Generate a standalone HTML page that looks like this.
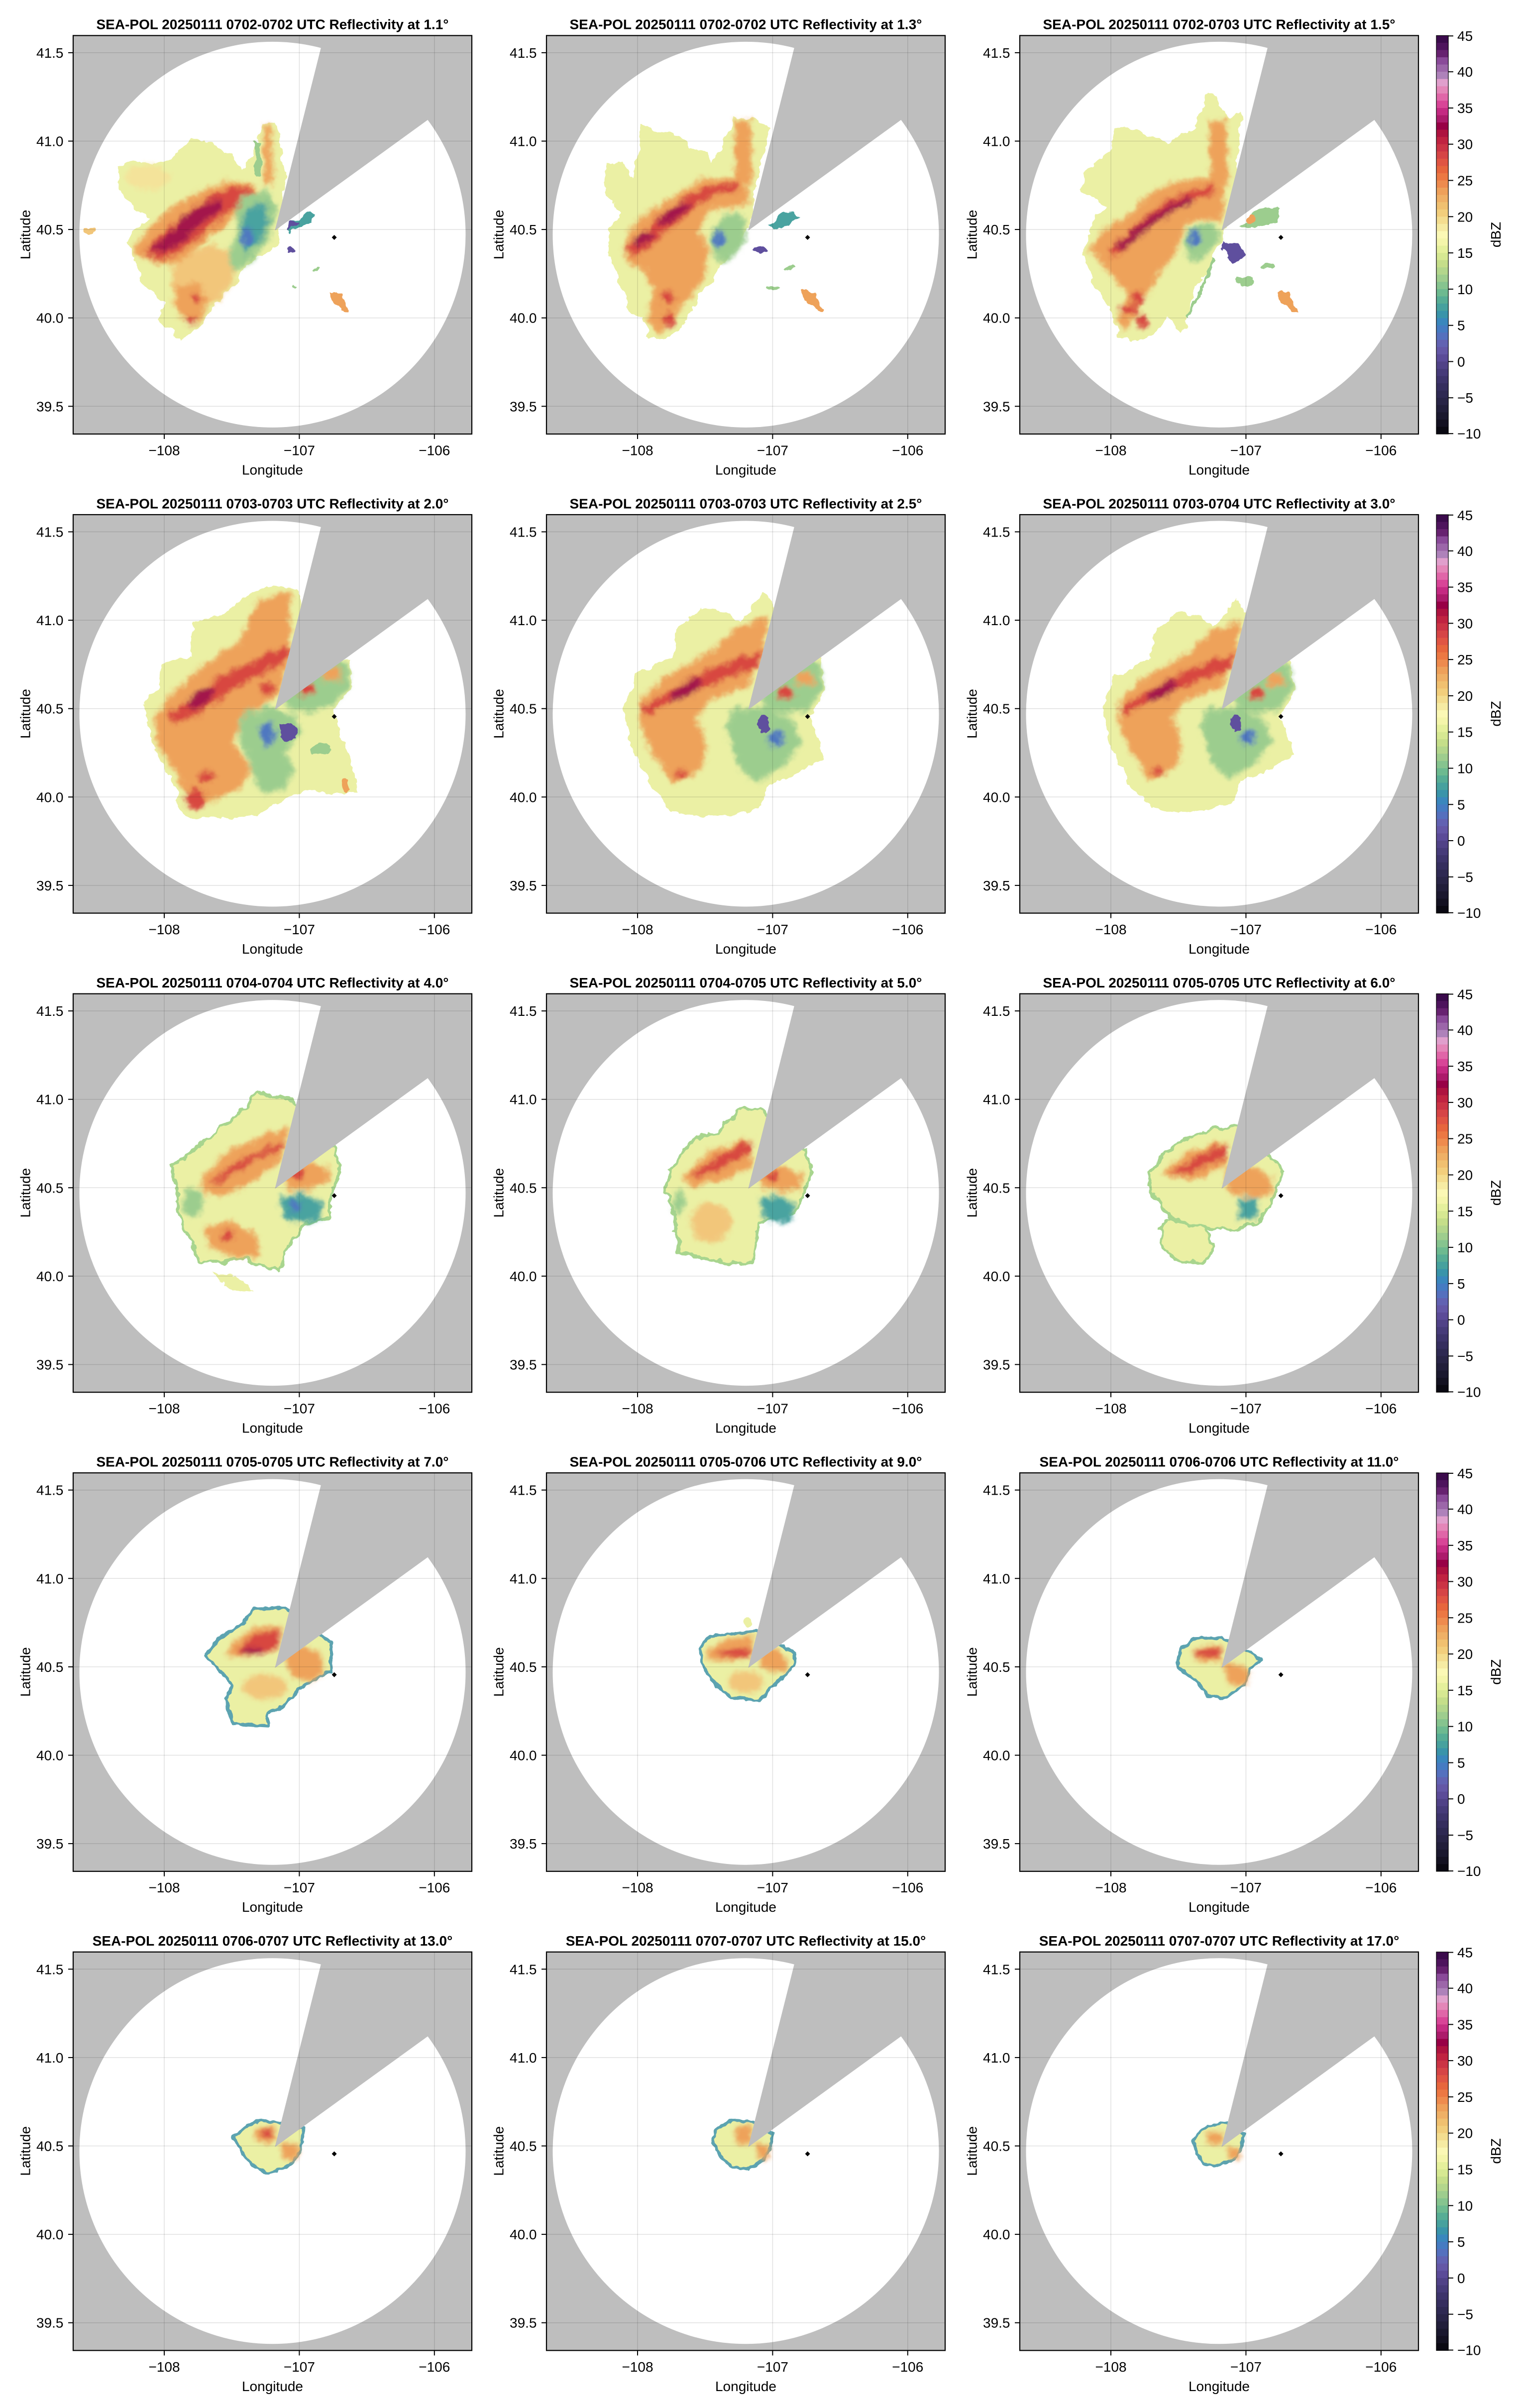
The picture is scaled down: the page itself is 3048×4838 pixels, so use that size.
<!DOCTYPE html>
<html><head><meta charset="utf-8"><style>
html,body{margin:0;padding:0;background:#fff}
svg{display:block}
text{font-family:"Liberation Sans",Arial,sans-serif;font-size:28px;fill:#000}
.t{font-weight:bold;text-anchor:middle}
.yl text{text-anchor:end}
.xl text{text-anchor:middle}
.lb{text-anchor:middle}
.cl text{text-anchor:start}
.py{fill:#ebf0a4}
.py3{fill:#ebf0a4;stroke:#a8d58e;stroke-width:6;stroke-linejoin:round}
.py4{fill:#ebf0a4;stroke:#5ba3b0;stroke-width:6;stroke-linejoin:round}
.ly{fill:#f4e39a}
.lo{fill:#f2c67a}
.or{fill:#eea25a}
.rd{fill:#d8473f}
.dr{fill:#a3154b}
.gr{fill:#9ccd8e}
.tl{fill:#4aa3a0}
.bl{fill:#4f78c0}
.pu{fill:#5f4f9e}
</style></head><body>
<svg xmlns="http://www.w3.org/2000/svg" xmlns:xlink="http://www.w3.org/1999/xlink" width="3048" height="4838" viewBox="0 0 3048 4838">
<defs>
<clipPath id="cp"><rect x="0" y="0" width="801" height="800.6"/></clipPath>
<filter id="rag" x="-20%" y="-20%" width="140%" height="140%">
<feTurbulence type="fractalNoise" baseFrequency="0.045" numOctaves="3" seed="7" result="t"/>
<feDisplacementMap in="SourceGraphic" in2="t" scale="18" xChannelSelector="R" yChannelSelector="G"/>
</filter>
<filter id="rag2" x="-20%" y="-20%" width="140%" height="140%">
<feTurbulence type="fractalNoise" baseFrequency="0.07" numOctaves="2" seed="3" result="t"/>
<feDisplacementMap in="SourceGraphic" in2="t" scale="9" xChannelSelector="R" yChannelSelector="G"/>
</filter>
<filter id="bl" x="-30%" y="-30%" width="160%" height="160%"><feGaussianBlur stdDeviation="5"/></filter>

<g id="bg">
<rect x="0" y="0" width="801" height="800.6" fill="#bebebe"/>
<ellipse cx="400.5" cy="400" rx="388" ry="387.5" fill="#fff"/>
</g>

<g id="fg">
<polygon clip-path="url(#cp)" points="405.3,391.9 683.4,-711.8 1323.3,-272.9" fill="#bebebe"/>
<g stroke="#000" stroke-opacity="0.12" stroke-width="1.5">
<line x1="183" y1="0" x2="183" y2="800.6"/>
<line x1="454.4" y1="0" x2="454.4" y2="800.6"/>
<line x1="725.8" y1="0" x2="725.8" y2="800.6"/>
<line x1="0" y1="34.5" x2="801" y2="34.5"/>
<line x1="0" y1="212.1" x2="801" y2="212.1"/>
<line x1="0" y1="389.7" x2="801" y2="389.7"/>
<line x1="0" y1="567.3" x2="801" y2="567.3"/>
<line x1="0" y1="744.9" x2="801" y2="744.9"/>
</g>
<path d="M524.6,400.6L529.6,405.6L524.6,410.6L519.6,405.6Z" fill="#000"/>
<rect x="0" y="0" width="801" height="800.6" fill="none" stroke="#000" stroke-width="2.2"/>
<g stroke="#000" stroke-width="2">
<line x1="-10" x2="0" y1="34.5" y2="34.5"/>
<line x1="-10" x2="0" y1="212.1" y2="212.1"/>
<line x1="-10" x2="0" y1="389.7" y2="389.7"/>
<line x1="-10" x2="0" y1="567.3" y2="567.3"/>
<line x1="-10" x2="0" y1="744.9" y2="744.9"/>
<line x1="183" x2="183" y1="800.6" y2="810.6"/>
<line x1="454.4" x2="454.4" y1="800.6" y2="810.6"/>
<line x1="725.8" x2="725.8" y1="800.6" y2="810.6"/>
</g>
</g>

<g id="cb">
<rect x="837" width="24" height="15" y="0" fill="#3b0b4c"/>
<rect x="837" width="24" height="15" y="14.56" fill="#4e145d"/>
<rect x="837" width="24" height="15" y="29.11" fill="#672270"/>
<rect x="837" width="24" height="15" y="43.67" fill="#8a4a99"/>
<rect x="837" width="24" height="15" y="58.23" fill="#9c66a9"/>
<rect x="837" width="24" height="15" y="72.78" fill="#ae82ba"/>
<rect x="837" width="24" height="15" y="87.34" fill="#e09fcc"/>
<rect x="837" width="24" height="15" y="101.89" fill="#e486b8"/>
<rect x="837" width="24" height="15" y="116.45" fill="#e066a8"/>
<rect x="837" width="24" height="15" y="131.01" fill="#d84597"/>
<rect x="837" width="24" height="15" y="145.56" fill="#c42a82"/>
<rect x="837" width="24" height="15" y="160.12" fill="#ac1b6b"/>
<rect x="837" width="24" height="15" y="174.68" fill="#980046"/>
<rect x="837" width="24" height="15" y="189.23" fill="#ae1340"/>
<rect x="837" width="24" height="15" y="203.79" fill="#c02341"/>
<rect x="837" width="24" height="15" y="218.35" fill="#cb3445"/>
<rect x="837" width="24" height="15" y="232.9" fill="#d64546"/>
<rect x="837" width="24" height="15" y="247.46" fill="#e05543"/>
<rect x="837" width="24" height="15" y="262.02" fill="#e7663d"/>
<rect x="837" width="24" height="15" y="276.57" fill="#ec7843"/>
<rect x="837" width="24" height="15" y="291.13" fill="#ee8b4e"/>
<rect x="837" width="24" height="15" y="305.68" fill="#eea05a"/>
<rect x="837" width="24" height="15" y="320.24" fill="#efb066"/>
<rect x="837" width="24" height="15" y="334.8" fill="#f0c070"/>
<rect x="837" width="24" height="15" y="349.35" fill="#f2ce7c"/>
<rect x="837" width="24" height="15" y="363.91" fill="#f4dd8f"/>
<rect x="837" width="24" height="15" y="378.47" fill="#f6eba3"/>
<rect x="837" width="24" height="15" y="393.02" fill="#fbf8b5"/>
<rect x="837" width="24" height="15" y="407.58" fill="#f4f5aa"/>
<rect x="837" width="24" height="15" y="422.14" fill="#e5f09c"/>
<rect x="837" width="24" height="15" y="436.69" fill="#d6e892"/>
<rect x="837" width="24" height="15" y="451.25" fill="#c5de8a"/>
<rect x="837" width="24" height="15" y="465.8" fill="#b3d68c"/>
<rect x="837" width="24" height="15" y="480.36" fill="#9ecd8e"/>
<rect x="837" width="24" height="15" y="494.92" fill="#86c48f"/>
<rect x="837" width="24" height="15" y="509.47" fill="#6dba90"/>
<rect x="837" width="24" height="15" y="524.03" fill="#57ad95"/>
<rect x="837" width="24" height="15" y="538.59" fill="#47a19e"/>
<rect x="837" width="24" height="15" y="553.14" fill="#3a94aa"/>
<rect x="837" width="24" height="15" y="567.7" fill="#3a87bd"/>
<rect x="837" width="24" height="15" y="582.26" fill="#457bc2"/>
<rect x="837" width="24" height="15" y="596.81" fill="#5570be"/>
<rect x="837" width="24" height="15" y="611.37" fill="#6262b2"/>
<rect x="837" width="24" height="15" y="625.93" fill="#6457a6"/>
<rect x="837" width="24" height="15" y="640.48" fill="#5b4b98"/>
<rect x="837" width="24" height="15" y="655.04" fill="#504287"/>
<rect x="837" width="24" height="15" y="669.59" fill="#463b79"/>
<rect x="837" width="24" height="15" y="684.15" fill="#3d346b"/>
<rect x="837" width="24" height="15" y="698.71" fill="#352e5e"/>
<rect x="837" width="24" height="15" y="713.26" fill="#2e2952"/>
<rect x="837" width="24" height="15" y="727.82" fill="#282446"/>
<rect x="837" width="24" height="15" y="742.38" fill="#211e3a"/>
<rect x="837" width="24" height="15" y="756.93" fill="#1a182e"/>
<rect x="837" width="24" height="15" y="771.49" fill="#131121"/>
<rect x="837" width="24" height="14.6" y="786.05" fill="#0a0912"/>
<rect x="837" y="0" width="24" height="800.6" fill="none" stroke="#000" stroke-width="1.2"/>
<g stroke="#000" stroke-width="2">
<line x1="861" x2="871" y1="0.8" y2="0.8"/>
<line x1="861" x2="871" y1="72.8" y2="72.8"/>
<line x1="861" x2="871" y1="145.6" y2="145.6"/>
<line x1="861" x2="871" y1="218.3" y2="218.3"/>
<line x1="861" x2="871" y1="291.1" y2="291.1"/>
<line x1="861" x2="871" y1="363.9" y2="363.9"/>
<line x1="861" x2="871" y1="436.7" y2="436.7"/>
<line x1="861" x2="871" y1="509.5" y2="509.5"/>
<line x1="861" x2="871" y1="582.3" y2="582.3"/>
<line x1="861" x2="871" y1="655" y2="655"/>
<line x1="861" x2="871" y1="727.8" y2="727.8"/>
<line x1="861" x2="871" y1="799.8" y2="799.8"/>
</g>
</g>

<g id="d1">
<polygon class="py" points="236,209 299,225 338,267 357,248 382,177 408,174 427,286 414,375 414,413 395,439 363,445 338,477 325,503 299,522 268,566 236,598 210,614 197,592 166,573 185,541 153,509 134,490 127,452 108,413 121,394 153,369 127,350 95,311 89,260 121,248 159,260 197,248"/>
<ellipse class="lo" cx="34" cy="391" rx="11" ry="6"/>
<g filter="url(#bl)">
<polygon class="lo" points="200,450 280,420 330,440 320,500 280,540 240,560 200,540"/>
<ellipse class="ly" cx="150" cy="285" rx="45" ry="25"/>
<polygon class="or" points="121,426 153,388 210,337 261,311 312,292 357,299 382,324 363,343 325,362 299,388 261,413 236,439 210,458 172,458 134,445"/>
<polygon class="or" points="205,505 250,495 272,530 262,565 235,580 212,560"/>
<polygon class="or" points="383,180 397,178 402,300 385,305"/>
<polygon class="rd" points="140,440 165,410 200,380 240,345 280,320 320,305 355,305 370,322 340,340 300,362 270,390 240,415 205,440 170,452"/>
<circle class="rd" cx="248" cy="528" r="10"/>
<circle class="rd" cx="236" cy="572" r="9"/>
<polygon class="dr" points="153,432 191,401 223,362 261,337 293,330 299,350 261,375 223,413 191,432 159,439"/>
<polygon class="gr" points="338,324 389,311 408,343 402,388 376,432 351,458 325,477 312,439 331,388 325,350"/>
<polygon class="tl" points="345,350 385,335 395,380 370,420 345,440 335,400"/>
<ellipse class="bl" cx="350" cy="405" rx="12" ry="20"/>
</g>
<polygon class="gr" points="365,215 375,212 378,280 366,282"/>
<polygon class="tl" points="427,385 450,368 470,356 485,360 480,378 455,385 435,395"/>
<ellipse class="pu" cx="440" cy="380" rx="14" ry="4" transform="rotate(-30 440 380)"/>
<ellipse class="pu" cx="435" cy="432" rx="8" ry="5"/>
<polygon class="or" points="516,518 530,515 552,545 554,556 540,552 520,530"/>
<ellipse class="gr" cx="446" cy="503" rx="6" ry="3"/>
<ellipse class="gr" cx="490" cy="470" rx="5" ry="3"/>
</g>

<g id="d2">
<polygon class="py" points="189,179 225,194 255,194 286,225 306,225 332,255 352,225 378,163 414,169 450,184 419,306 409,388 368,429 337,490 306,521 276,582 235,613 204,608 194,562 169,562 153,511 128,444 125,388 153,358 128,327 112,306 123,255 153,255 174,286 184,230"/>
<g filter="url(#bl)">
<polygon class="or" points="153,439 169,388 215,347 266,317 317,286 358,286 398,286 409,332 378,347 332,347 306,388 327,439 317,490 286,526 255,572 225,603 204,572 215,511 194,470 169,460"/>
<polygon class="or" points="378,170 410,170 412,300 380,300"/>
<polygon class="rd" points="153,434 194,398 230,358 276,327 317,306 358,296 388,296 388,312 347,317 306,337 276,368 235,398 204,429 174,444"/>
<ellipse class="dr" cx="255" cy="358" rx="38" ry="12" transform="rotate(-35 255 358)"/>
<ellipse class="dr" cx="194" cy="409" rx="22" ry="10" transform="rotate(-30 194 409)"/>
<circle class="rd" cx="245" cy="526" r="14"/>
<circle class="rd" cx="245" cy="570" r="13"/>
<polygon class="gr" points="327,404 358,358 393,358 404,388 388,434 358,455 332,439"/>
<ellipse class="bl" cx="347" cy="409" rx="12" ry="18"/>
</g>
<polygon class="tl" points="444,380 470,360 500,352 506,362 485,385 455,393"/>
<ellipse class="pu" cx="425" cy="432" rx="16" ry="6"/>
<polygon class="or" points="511,511 525,508 557,548 555,556 540,548 515,525"/>
<ellipse class="gr" cx="455" cy="505" rx="14" ry="5"/>
<ellipse class="gr" cx="490" cy="467" rx="10" ry="4"/>
</g>

<g id="d3">
<polygon class="py" points="191,190 231,184 258,203 298,216 332,197 352,184 378,114 392,120 418,171 445,152 432,324 412,394 392,439 378,477 352,503 338,566 325,598 298,566 265,605 231,617 198,605 185,560 151,503 128,439 144,375 171,337 118,311 138,267 178,235"/>
<g filter="url(#bl)">
<polygon class="or" points="171,388 218,362 251,324 298,299 345,286 385,286 412,299 405,375 365,369 338,375 325,401 312,439 285,471 265,503 245,535 231,566 205,598 198,566 218,522 191,490 164,458 138,432"/>
<polygon class="or" points="380,171 414,171 418,300 385,300"/>
<polygon class="rd" points="178,432 211,401 245,369 285,337 325,318 365,305 392,299 392,318 352,330 312,350 271,375 238,401 211,432 185,445"/>
<circle class="rd" cx="238" cy="528" r="14"/>
<circle class="rd" cx="245" cy="573" r="12"/>
<ellipse class="rd" cx="220" cy="550" rx="18" ry="10"/>
<polygon class="dr" points="190,425 225,395 260,365 300,340 340,322 350,333 310,352 270,380 235,408 205,432"/>
<polygon class="gr" points="338,388 378,375 405,394 385,432 358,452 338,445 328,420"/>
<ellipse class="bl" cx="352" cy="407" rx="12" ry="18"/>
</g>
<polygon class="gr" points="440,385 470,355 500,340 520,350 515,375 490,385 460,390"/>
<ellipse class="or" cx="465" cy="369" rx="12" ry="8"/>
<polygon class="pu" points="405,413 440,420 452,445 430,458 410,440"/>
<ellipse class="gr" cx="498" cy="464" rx="14" ry="6"/>
<ellipse class="gr" cx="452" cy="492" rx="20" ry="8"/>
<polygon class="or" points="519,515 530,512 557,545 559,557 545,553 522,530"/>
<polyline points="391,450 338,566" fill="none" stroke="#9ccd8e" stroke-width="6"/>
</g>

<g id="d4">
<polygon class="py" points="335,174 386,141 453,148 469,286 559,291 559,347 525,388 536,450 559,490 570,557 525,562 469,552 436,567 369,603 324,613 279,608 235,616 207,588 212,557 184,511 156,450 140,378 168,347 179,301 235,286 240,220 291,204"/>
<g filter="url(#bl)">
<polygon class="or" points="201,358 257,307 335,255 369,174 436,153 436,286 413,358 380,388 335,409 324,460 358,511 335,552 279,577 235,588 224,552 201,511 168,460 162,409"/>
<polygon class="rd" points="190,398 246,368 291,327 358,296 425,261 436,286 391,317 335,342 291,373 246,404 201,419"/>
<ellipse class="dr" cx="257" cy="368" rx="30" ry="16" transform="rotate(-35 257 368)"/>
<circle class="rd" cx="245" cy="570" r="20"/>
<circle class="rd" cx="268" cy="526" r="14"/>
<circle class="rd" cx="390" cy="350" r="14"/>
<polygon class="gr" points="338,405 352,390 372,398 391,384 420,396 447,404 458,439 425,480 447,511 425,552 380,562 358,511 340,460 330,430"/>
<ellipse class="bl" cx="390" cy="440" rx="15" ry="25"/>
<polygon class="gr" points="440,330 480,300 520,290 555,300 555,345 520,385 480,398 440,395 425,380"/>
<ellipse class="rd" cx="470" cy="350" rx="18" ry="14"/>
<ellipse class="or" cx="520" cy="320" rx="20" ry="15"/>
</g>
<polygon class="pu" points="413,419 447,425 447,450 425,455 410,440"/>
<ellipse class="gr" cx="500" cy="470" rx="20" ry="10"/>
<ellipse class="or" cx="547" cy="545" rx="8" ry="14"/>
</g>

<g id="d5">
<polygon class="py" points="312,184 345,189 390,215 435,158 552,291 558,358 530,409 558,490 502,521 446,542 435,588 379,603 312,608 256,598 222,562 189,506 167,460 155,388 178,322 256,286 262,230"/>
<g filter="url(#bl)">
<polygon class="or" points="190,373 235,327 313,286 390,225 446,204 435,286 401,347 334,368 301,409 323,460 312,511 256,542 234,511 200,460 189,419"/>
<polygon class="rd" points="190,388 257,347 324,312 391,286 430,276 425,307 369,327 302,353 246,378 201,404"/>
<ellipse class="dr" cx="280" cy="352" rx="38" ry="13" transform="rotate(-30 280 352)"/>
<polygon class="gr" points="370,400 385,386 402,395 424,382 455,398 491,409 513,460 479,501 424,542 390,511 368,460 362,425"/>
<ellipse class="bl" cx="460" cy="450" rx="15" ry="18"/>
<polygon class="gr" points="430,330 470,300 520,290 552,300 555,350 525,395 480,400 440,395"/>
<ellipse class="rd" cx="480" cy="358" rx="18" ry="14"/>
<ellipse class="or" cx="520" cy="330" rx="18" ry="14"/>
<circle class="rd" cx="270" cy="520" r="10"/>
</g>
<ellipse class="pu" cx="435" cy="419" rx="12" ry="20"/>
</g>

<g id="d7">
<polygon class="py3" points="371,199 440,215 526,312 535,358 517,419 517,450 466,460 431,511 414,557 345,531 259,542 216,460 207,398 198,347 233,322 276,286 302,266 345,230"/>
<polygon class="py" points="276,562 330,570 362,598 320,595"/>
<g filter="url(#bl)">
<polygon class="or" points="259,368 310,317 379,286 431,266 422,327 388,358 345,388 293,409 259,398"/>
<polygon class="or" points="265,470 320,455 370,490 375,525 320,530 270,505"/>
<polygon class="rd" points="276,378 328,337 388,312 422,296 422,312 371,332 319,363 285,383"/>
<circle class="rd" cx="310" cy="485" r="12"/>
<polygon class="or" points="425,345 470,335 510,345 515,380 470,395 430,395"/>
<ellipse class="rd" cx="450" cy="360" rx="15" ry="10"/>
<polygon class="tl" points="414,410 460,400 500,420 495,455 450,460 420,445"/>
<ellipse class="bl" cx="445" cy="425" rx="10" ry="14"/>
<ellipse class="gr" cx="240" cy="420" rx="20" ry="30"/>
</g>
</g>

<g id="d8">
<polygon class="py3" points="395,232 429,230 516,312 533,358 516,409 498,439 429,460 412,542 326,536 266,516 257,444 240,398 248,353 291,296 343,276"/>
<g filter="url(#bl)">
<ellipse class="lo" cx="330" cy="460" rx="40" ry="40"/>
<polygon class="or" points="274,368 326,317 412,291 412,347 360,373 291,388"/>
<polygon class="rd" points="291,363 343,327 412,294 412,317 360,347 310,368"/>
<polygon class="or" points="429,347 470,345 512,360 512,395 470,398 432,390"/>
<ellipse class="rd" cx="455" cy="365" rx="12" ry="10"/>
<polygon class="tl" points="429,409 470,405 498,425 490,458 450,460 432,440"/>
<ellipse class="gr" cx="265" cy="420" rx="12" ry="25"/>
</g>
</g>

<g id="d9">
<polygon class="py3" points="391,271 434,266 503,327 528,358 511,409 477,460 425,475 373,470 304,450 261,398 261,358 296,317 339,286"/>
<polygon class="py3" points="296,452 373,470 391,511 373,536 322,542 287,511 284,470"/>
<g filter="url(#bl)">
<polygon class="or" points="287,358 339,317 416,296 416,337 373,368 322,373"/>
<polygon class="rd" points="304,358 356,327 416,301 416,327 356,353 322,365"/>
<polygon class="or" points="410,347 460,345 505,365 508,405 470,408 420,400"/>
<polygon class="tl" points="440,410 480,410 475,450 440,455"/>
</g>
</g>

<g id="d10">
<polygon class="py4" points="363,273 426,271 518,341 518,398 462,428 419,471 391,481 391,508 321,504 306,454 321,428 292,394 264,368 292,334 342,301"/>
<g filter="url(#bl)">
<ellipse class="lo" cx="385" cy="430" rx="45" ry="25"/>
<polygon class="or" points="321,341 363,311 419,308 412,354 363,368 306,368"/>
<polygon class="rd" points="328,358 363,324 416,313 412,351 377,364 335,364"/>
<ellipse class="dr" cx="360" cy="358" rx="22" ry="7"/>
<polygon class="or" points="420,360 450,345 495,360 505,400 480,420 440,410"/>
</g>
</g>

<g id="d11">
<polygon class="py4" points="329,328 421,318 498,361 498,388 456,428 428,458 371,451 343,428 315,391 308,351"/>
<ellipse class="py" cx="403" cy="300" rx="8" ry="12"/>
<g filter="url(#bl)">
<ellipse class="lo" cx="400" cy="420" rx="35" ry="22"/>
<polygon class="or" points="320,358 360,335 414,325 414,370 370,378 325,375"/>
<polygon class="rd" points="336,361 386,351 414,356 407,371 357,369"/>
<polygon class="or" points="428,354 460,352 484,375 484,397 455,400 430,390"/>
</g>
</g>

<g id="d12">
<polygon class="py4" points="351,333 407,331 485,374 464,394 450,428 407,454 379,448 351,414 316,391 323,354"/>
<g filter="url(#bl)">
<polygon class="or" points="345,358 386,345 407,350 405,378 360,380"/>
<polygon class="rd" points="351,358 386,351 407,354 400,371 351,369"/>
<polygon class="or" points="407,381 440,385 463,400 455,427 420,425"/>
</g>
</g>

<g id="d13">
<polygon class="py4" points="377,338 410,343 463,353 457,399 437,426 410,439 390,446 357,426 337,399 322,370 350,349"/>
<g filter="url(#bl)">
<polygon class="or" points="370,353 403,349 410,376 390,386 363,376"/>
<ellipse class="rd" cx="390" cy="365" rx="12" ry="10"/>
<polygon class="or" points="417,383 445,385 457,400 445,419 420,415"/>
</g>
</g>

<g id="d14">
<polygon class="py4" points="374,338 414,341 454,366 447,399 434,419 407,436 374,433 354,416 334,383 340,356"/>
<g filter="url(#bl)">
<polygon class="or" points="380,349 413,349 413,386 380,386"/>
<polygon class="or" points="420,382 447,390 447,416 425,416"/>
</g>
</g>

<g id="d15">
<polygon class="py4" points="376,349 416,343 449,366 443,399 429,419 396,429 369,426 356,406 349,376"/>
<g filter="url(#bl)">
<polygon class="or" points="376,362 409,362 409,386 376,386"/>
<polygon class="or" points="416,392 443,396 443,416 420,416"/>
</g>
</g>
</defs>

<!-- ROW 1 -->
<g transform="translate(147,71.4)">
<use xlink:href="#bg" href="#bg"/>
<g clip-path="url(#cp)"><g filter="url(#rag)"><use xlink:href="#d1" href="#d1"/></g></g>
<use xlink:href="#fg" href="#fg"/>
<text class="t" x="400.5" y="-12.7">SEA-POL 20250111 0702-0702 UTC Reflectivity at 1.1°</text>
<g class="yl"><text x="-19.5" y="44.5">41.5</text><text x="-19.5" y="222.1">41.0</text><text x="-19.5" y="399.7">40.5</text><text x="-19.5" y="577.3">40.0</text><text x="-19.5" y="754.9">39.5</text></g>
<g class="xl"><text x="183" y="843">−108</text><text x="454.4" y="843">−107</text><text x="725.8" y="843">−106</text></g>
<text class="lb" x="400.5" y="882">Longitude</text>
<text class="lb" transform="translate(-86.4,400) rotate(-90)">Latitude</text>
</g>

<g transform="translate(1098,71.4)">
<use xlink:href="#bg" href="#bg"/>
<g clip-path="url(#cp)"><g filter="url(#rag)"><use xlink:href="#d2" href="#d2"/></g></g>
<use xlink:href="#fg" href="#fg"/>
<text class="t" x="400.5" y="-12.7">SEA-POL 20250111 0702-0702 UTC Reflectivity at 1.3°</text>
<g class="yl"><text x="-19.5" y="44.5">41.5</text><text x="-19.5" y="222.1">41.0</text><text x="-19.5" y="399.7">40.5</text><text x="-19.5" y="577.3">40.0</text><text x="-19.5" y="754.9">39.5</text></g>
<g class="xl"><text x="183" y="843">−108</text><text x="454.4" y="843">−107</text><text x="725.8" y="843">−106</text></g>
<text class="lb" x="400.5" y="882">Longitude</text>
<text class="lb" transform="translate(-86.4,400) rotate(-90)">Latitude</text>
</g>

<g transform="translate(2049,71.4)">
<use xlink:href="#bg" href="#bg"/>
<g clip-path="url(#cp)"><g filter="url(#rag)"><use xlink:href="#d3" href="#d3"/></g></g>
<use xlink:href="#fg" href="#fg"/>
<text class="t" x="400.5" y="-12.7">SEA-POL 20250111 0702-0703 UTC Reflectivity at 1.5°</text>
<g class="yl"><text x="-19.5" y="44.5">41.5</text><text x="-19.5" y="222.1">41.0</text><text x="-19.5" y="399.7">40.5</text><text x="-19.5" y="577.3">40.0</text><text x="-19.5" y="754.9">39.5</text></g>
<g class="xl"><text x="183" y="843">−108</text><text x="454.4" y="843">−107</text><text x="725.8" y="843">−106</text></g>
<text class="lb" x="400.5" y="882">Longitude</text>
<text class="lb" transform="translate(-86.4,400) rotate(-90)">Latitude</text>
<use xlink:href="#cb" href="#cb"/>
<g class="cl"><text x="879" y="10.8">45</text><text x="879" y="82.8">40</text><text x="879" y="155.6">35</text><text x="879" y="228.3">30</text><text x="879" y="301.1">25</text><text x="879" y="373.9">20</text><text x="879" y="446.7">15</text><text x="879" y="519.5">10</text><text x="879" y="592.3">5</text><text x="879" y="665">0</text><text x="879" y="737.8">−5</text><text x="879" y="809.8">−10</text></g>
<text class="lb" transform="translate(966,400) rotate(-90)">dBZ</text>
</g>

<!-- ROW 2 -->
<g transform="translate(147,1034)">
<use xlink:href="#bg" href="#bg"/>
<g clip-path="url(#cp)"><g filter="url(#rag)"><use xlink:href="#d4" href="#d4"/></g></g>
<use xlink:href="#fg" href="#fg"/>
<text class="t" x="400.5" y="-12.7">SEA-POL 20250111 0703-0703 UTC Reflectivity at 2.0°</text>
<g class="yl"><text x="-19.5" y="44.5">41.5</text><text x="-19.5" y="222.1">41.0</text><text x="-19.5" y="399.7">40.5</text><text x="-19.5" y="577.3">40.0</text><text x="-19.5" y="754.9">39.5</text></g>
<g class="xl"><text x="183" y="843">−108</text><text x="454.4" y="843">−107</text><text x="725.8" y="843">−106</text></g>
<text class="lb" x="400.5" y="882">Longitude</text>
<text class="lb" transform="translate(-86.4,400) rotate(-90)">Latitude</text>
</g>

<g transform="translate(1098,1034)">
<use xlink:href="#bg" href="#bg"/>
<g clip-path="url(#cp)"><g filter="url(#rag)"><use xlink:href="#d5" href="#d5"/></g></g>
<use xlink:href="#fg" href="#fg"/>
<text class="t" x="400.5" y="-12.7">SEA-POL 20250111 0703-0703 UTC Reflectivity at 2.5°</text>
<g class="yl"><text x="-19.5" y="44.5">41.5</text><text x="-19.5" y="222.1">41.0</text><text x="-19.5" y="399.7">40.5</text><text x="-19.5" y="577.3">40.0</text><text x="-19.5" y="754.9">39.5</text></g>
<g class="xl"><text x="183" y="843">−108</text><text x="454.4" y="843">−107</text><text x="725.8" y="843">−106</text></g>
<text class="lb" x="400.5" y="882">Longitude</text>
<text class="lb" transform="translate(-86.4,400) rotate(-90)">Latitude</text>
</g>

<g transform="translate(2049,1034)">
<use xlink:href="#bg" href="#bg"/>
<g clip-path="url(#cp)"><g filter="url(#rag)"><g transform="translate(405,392) scale(0.95) translate(-405,-392)"><use xlink:href="#d5" href="#d5"/></g></g></g>
<use xlink:href="#fg" href="#fg"/>
<text class="t" x="400.5" y="-12.7">SEA-POL 20250111 0703-0704 UTC Reflectivity at 3.0°</text>
<g class="yl"><text x="-19.5" y="44.5">41.5</text><text x="-19.5" y="222.1">41.0</text><text x="-19.5" y="399.7">40.5</text><text x="-19.5" y="577.3">40.0</text><text x="-19.5" y="754.9">39.5</text></g>
<g class="xl"><text x="183" y="843">−108</text><text x="454.4" y="843">−107</text><text x="725.8" y="843">−106</text></g>
<text class="lb" x="400.5" y="882">Longitude</text>
<text class="lb" transform="translate(-86.4,400) rotate(-90)">Latitude</text>
<use xlink:href="#cb" href="#cb"/>
<g class="cl"><text x="879" y="10.8">45</text><text x="879" y="82.8">40</text><text x="879" y="155.6">35</text><text x="879" y="228.3">30</text><text x="879" y="301.1">25</text><text x="879" y="373.9">20</text><text x="879" y="446.7">15</text><text x="879" y="519.5">10</text><text x="879" y="592.3">5</text><text x="879" y="665">0</text><text x="879" y="737.8">−5</text><text x="879" y="809.8">−10</text></g>
<text class="lb" transform="translate(966,400) rotate(-90)">dBZ</text>
</g>

<!-- ROW 3 -->
<g transform="translate(147,1996.6)">
<use xlink:href="#bg" href="#bg"/>
<g clip-path="url(#cp)"><g filter="url(#rag)"><use xlink:href="#d7" href="#d7"/></g></g>
<use xlink:href="#fg" href="#fg"/>
<text class="t" x="400.5" y="-12.7">SEA-POL 20250111 0704-0704 UTC Reflectivity at 4.0°</text>
<g class="yl"><text x="-19.5" y="44.5">41.5</text><text x="-19.5" y="222.1">41.0</text><text x="-19.5" y="399.7">40.5</text><text x="-19.5" y="577.3">40.0</text><text x="-19.5" y="754.9">39.5</text></g>
<g class="xl"><text x="183" y="843">−108</text><text x="454.4" y="843">−107</text><text x="725.8" y="843">−106</text></g>
<text class="lb" x="400.5" y="882">Longitude</text>
<text class="lb" transform="translate(-86.4,400) rotate(-90)">Latitude</text>
</g>

<g transform="translate(1098,1996.6)">
<use xlink:href="#bg" href="#bg"/>
<g clip-path="url(#cp)"><g filter="url(#rag)"><use xlink:href="#d8" href="#d8"/></g></g>
<use xlink:href="#fg" href="#fg"/>
<text class="t" x="400.5" y="-12.7">SEA-POL 20250111 0704-0705 UTC Reflectivity at 5.0°</text>
<g class="yl"><text x="-19.5" y="44.5">41.5</text><text x="-19.5" y="222.1">41.0</text><text x="-19.5" y="399.7">40.5</text><text x="-19.5" y="577.3">40.0</text><text x="-19.5" y="754.9">39.5</text></g>
<g class="xl"><text x="183" y="843">−108</text><text x="454.4" y="843">−107</text><text x="725.8" y="843">−106</text></g>
<text class="lb" x="400.5" y="882">Longitude</text>
<text class="lb" transform="translate(-86.4,400) rotate(-90)">Latitude</text>
</g>

<g transform="translate(2049,1996.6)">
<use xlink:href="#bg" href="#bg"/>
<g clip-path="url(#cp)"><g filter="url(#rag)"><use xlink:href="#d9" href="#d9"/></g></g>
<use xlink:href="#fg" href="#fg"/>
<text class="t" x="400.5" y="-12.7">SEA-POL 20250111 0705-0705 UTC Reflectivity at 6.0°</text>
<g class="yl"><text x="-19.5" y="44.5">41.5</text><text x="-19.5" y="222.1">41.0</text><text x="-19.5" y="399.7">40.5</text><text x="-19.5" y="577.3">40.0</text><text x="-19.5" y="754.9">39.5</text></g>
<g class="xl"><text x="183" y="843">−108</text><text x="454.4" y="843">−107</text><text x="725.8" y="843">−106</text></g>
<text class="lb" x="400.5" y="882">Longitude</text>
<text class="lb" transform="translate(-86.4,400) rotate(-90)">Latitude</text>
<use xlink:href="#cb" href="#cb"/>
<g class="cl"><text x="879" y="10.8">45</text><text x="879" y="82.8">40</text><text x="879" y="155.6">35</text><text x="879" y="228.3">30</text><text x="879" y="301.1">25</text><text x="879" y="373.9">20</text><text x="879" y="446.7">15</text><text x="879" y="519.5">10</text><text x="879" y="592.3">5</text><text x="879" y="665">0</text><text x="879" y="737.8">−5</text><text x="879" y="809.8">−10</text></g>
<text class="lb" transform="translate(966,400) rotate(-90)">dBZ</text>
</g>

<!-- ROW 4 -->
<g transform="translate(147,2959.2)">
<use xlink:href="#bg" href="#bg"/>
<g clip-path="url(#cp)"><g filter="url(#rag2)"><use xlink:href="#d10" href="#d10"/></g></g>
<use xlink:href="#fg" href="#fg"/>
<text class="t" x="400.5" y="-12.7">SEA-POL 20250111 0705-0705 UTC Reflectivity at 7.0°</text>
<g class="yl"><text x="-19.5" y="44.5">41.5</text><text x="-19.5" y="222.1">41.0</text><text x="-19.5" y="399.7">40.5</text><text x="-19.5" y="577.3">40.0</text><text x="-19.5" y="754.9">39.5</text></g>
<g class="xl"><text x="183" y="843">−108</text><text x="454.4" y="843">−107</text><text x="725.8" y="843">−106</text></g>
<text class="lb" x="400.5" y="882">Longitude</text>
<text class="lb" transform="translate(-86.4,400) rotate(-90)">Latitude</text>
</g>

<g transform="translate(1098,2959.2)">
<use xlink:href="#bg" href="#bg"/>
<g clip-path="url(#cp)"><g filter="url(#rag2)"><use xlink:href="#d11" href="#d11"/></g></g>
<use xlink:href="#fg" href="#fg"/>
<text class="t" x="400.5" y="-12.7">SEA-POL 20250111 0705-0706 UTC Reflectivity at 9.0°</text>
<g class="yl"><text x="-19.5" y="44.5">41.5</text><text x="-19.5" y="222.1">41.0</text><text x="-19.5" y="399.7">40.5</text><text x="-19.5" y="577.3">40.0</text><text x="-19.5" y="754.9">39.5</text></g>
<g class="xl"><text x="183" y="843">−108</text><text x="454.4" y="843">−107</text><text x="725.8" y="843">−106</text></g>
<text class="lb" x="400.5" y="882">Longitude</text>
<text class="lb" transform="translate(-86.4,400) rotate(-90)">Latitude</text>
</g>

<g transform="translate(2049,2959.2)">
<use xlink:href="#bg" href="#bg"/>
<g clip-path="url(#cp)"><g filter="url(#rag2)"><use xlink:href="#d12" href="#d12"/></g></g>
<use xlink:href="#fg" href="#fg"/>
<text class="t" x="400.5" y="-12.7">SEA-POL 20250111 0706-0706 UTC Reflectivity at 11.0°</text>
<g class="yl"><text x="-19.5" y="44.5">41.5</text><text x="-19.5" y="222.1">41.0</text><text x="-19.5" y="399.7">40.5</text><text x="-19.5" y="577.3">40.0</text><text x="-19.5" y="754.9">39.5</text></g>
<g class="xl"><text x="183" y="843">−108</text><text x="454.4" y="843">−107</text><text x="725.8" y="843">−106</text></g>
<text class="lb" x="400.5" y="882">Longitude</text>
<text class="lb" transform="translate(-86.4,400) rotate(-90)">Latitude</text>
<use xlink:href="#cb" href="#cb"/>
<g class="cl"><text x="879" y="10.8">45</text><text x="879" y="82.8">40</text><text x="879" y="155.6">35</text><text x="879" y="228.3">30</text><text x="879" y="301.1">25</text><text x="879" y="373.9">20</text><text x="879" y="446.7">15</text><text x="879" y="519.5">10</text><text x="879" y="592.3">5</text><text x="879" y="665">0</text><text x="879" y="737.8">−5</text><text x="879" y="809.8">−10</text></g>
<text class="lb" transform="translate(966,400) rotate(-90)">dBZ</text>
</g>

<!-- ROW 5 -->
<g transform="translate(147,3921.8)">
<use xlink:href="#bg" href="#bg"/>
<g clip-path="url(#cp)"><g filter="url(#rag2)"><use xlink:href="#d13" href="#d13"/></g></g>
<use xlink:href="#fg" href="#fg"/>
<text class="t" x="400.5" y="-12.7">SEA-POL 20250111 0706-0707 UTC Reflectivity at 13.0°</text>
<g class="yl"><text x="-19.5" y="44.5">41.5</text><text x="-19.5" y="222.1">41.0</text><text x="-19.5" y="399.7">40.5</text><text x="-19.5" y="577.3">40.0</text><text x="-19.5" y="754.9">39.5</text></g>
<g class="xl"><text x="183" y="843">−108</text><text x="454.4" y="843">−107</text><text x="725.8" y="843">−106</text></g>
<text class="lb" x="400.5" y="882">Longitude</text>
<text class="lb" transform="translate(-86.4,400) rotate(-90)">Latitude</text>
</g>

<g transform="translate(1098,3921.8)">
<use xlink:href="#bg" href="#bg"/>
<g clip-path="url(#cp)"><g filter="url(#rag2)"><use xlink:href="#d14" href="#d14"/></g></g>
<use xlink:href="#fg" href="#fg"/>
<text class="t" x="400.5" y="-12.7">SEA-POL 20250111 0707-0707 UTC Reflectivity at 15.0°</text>
<g class="yl"><text x="-19.5" y="44.5">41.5</text><text x="-19.5" y="222.1">41.0</text><text x="-19.5" y="399.7">40.5</text><text x="-19.5" y="577.3">40.0</text><text x="-19.5" y="754.9">39.5</text></g>
<g class="xl"><text x="183" y="843">−108</text><text x="454.4" y="843">−107</text><text x="725.8" y="843">−106</text></g>
<text class="lb" x="400.5" y="882">Longitude</text>
<text class="lb" transform="translate(-86.4,400) rotate(-90)">Latitude</text>
</g>

<g transform="translate(2049,3921.8)">
<use xlink:href="#bg" href="#bg"/>
<g clip-path="url(#cp)"><g filter="url(#rag2)"><use xlink:href="#d15" href="#d15"/></g></g>
<use xlink:href="#fg" href="#fg"/>
<text class="t" x="400.5" y="-12.7">SEA-POL 20250111 0707-0707 UTC Reflectivity at 17.0°</text>
<g class="yl"><text x="-19.5" y="44.5">41.5</text><text x="-19.5" y="222.1">41.0</text><text x="-19.5" y="399.7">40.5</text><text x="-19.5" y="577.3">40.0</text><text x="-19.5" y="754.9">39.5</text></g>
<g class="xl"><text x="183" y="843">−108</text><text x="454.4" y="843">−107</text><text x="725.8" y="843">−106</text></g>
<text class="lb" x="400.5" y="882">Longitude</text>
<text class="lb" transform="translate(-86.4,400) rotate(-90)">Latitude</text>
<use xlink:href="#cb" href="#cb"/>
<g class="cl"><text x="879" y="10.8">45</text><text x="879" y="82.8">40</text><text x="879" y="155.6">35</text><text x="879" y="228.3">30</text><text x="879" y="301.1">25</text><text x="879" y="373.9">20</text><text x="879" y="446.7">15</text><text x="879" y="519.5">10</text><text x="879" y="592.3">5</text><text x="879" y="665">0</text><text x="879" y="737.8">−5</text><text x="879" y="809.8">−10</text></g>
<text class="lb" transform="translate(966,400) rotate(-90)">dBZ</text>
</g>
</svg>
</body></html>
